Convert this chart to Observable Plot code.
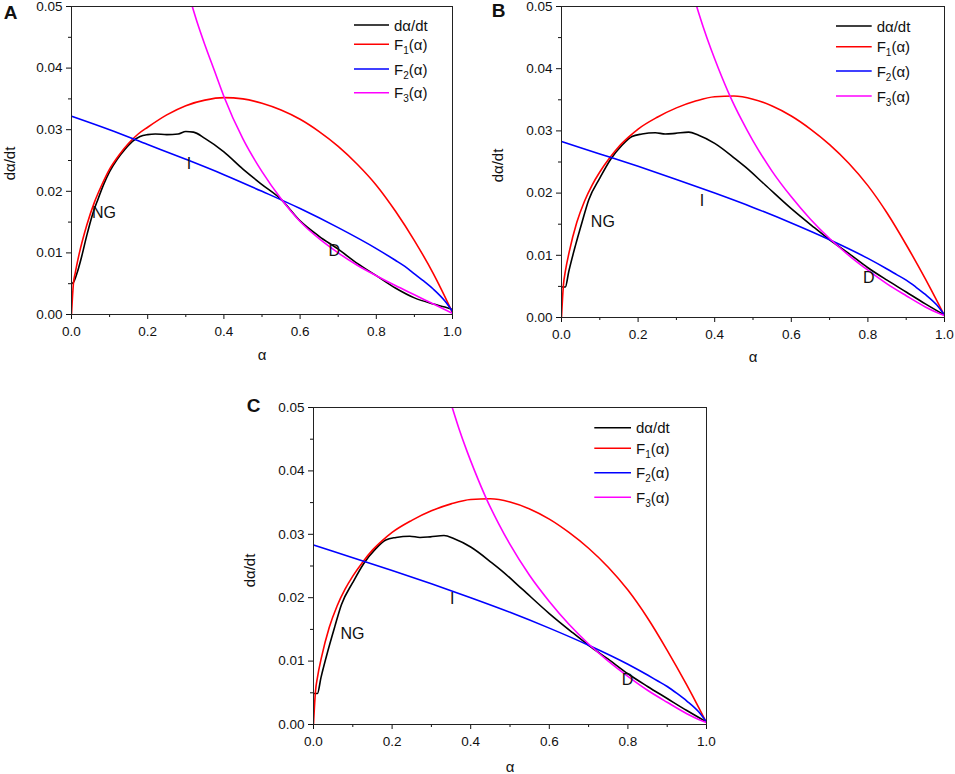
<!DOCTYPE html>
<html><head><meta charset="utf-8">
<script src="https://cdn.jsdelivr.net/npm/d3@7"></script>
<script src="https://cdn.jsdelivr.net/npm/@observablehq/plot@0.6"></script>
<style>
body{margin:0;background:#fff;}
#wrap{position:relative;width:955px;height:774px;overflow:hidden;background:#fff;}
#wrap svg{position:absolute;}
</style></head><body><div id="wrap"></div>
<script>
// ---------- data ----------
const seriesColors = ["#000000", "#ff0000", "#0000ff", "#ff00ff"];
const legendLabels = [["dα/dt", "", ""], ["F", "1", "(α)"], ["F", "2", "(α)"], ["F", "3", "(α)"]];
const xMajor = [0, 0.2, 0.4, 0.6, 0.8, 1.0];
const xMinor = [0.1, 0.3, 0.5, 0.7, 0.9];
const yMajor = [0, 0.01, 0.02, 0.03, 0.04, 0.05];
const yMinor = [0.005, 0.015, 0.025, 0.035, 0.045];

// Panel A
const A_f1_a = [0,0.005,0.01,0.02,0.04,0.06,0.08,0.1,0.125,0.15,0.175,0.2,0.25,0.3,0.35,0.4,0.45,0.5,0.55,0.6,0.65,0.7,0.75,0.8,0.85,0.9,0.95,0.98,1];
const A_f1   = [0,0.0050,0.0068,0.0098,0.0145,0.0182,0.0211,0.0236,0.0259,0.0278,0.0293,0.0304,0.0324,0.0339,0.0348,0.0352,0.0350,0.0343,0.0332,0.0317,0.0297,0.0273,0.0244,0.0210,0.0168,0.0120,0.0066,0.0029,0.0003];
const A_f2_a = [0,0.1,0.2,0.3,0.4,0.5,0.6,0.7,0.8,0.85,0.875,0.9,0.925,0.95,0.98,1];
const A_f2   = [0.0322,0.0300,0.0276,0.0252,0.0227,0.0200,0.0172,0.0141,0.0107,0.0088,0.0078,0.0066,0.0054,0.0041,0.0022,0.0005];
const A_f3_a = [0.317,0.33,0.35,0.375,0.4,0.45,0.5,0.55,0.6,0.65,0.7,0.75,0.8,0.85,0.9,0.95,1];
const A_f3   = [0.050,0.0474,0.0438,0.0396,0.0354,0.0285,0.0232,0.0188,0.0151,0.0123,0.0100,0.0080,0.0063,0.0047,0.0032,0.0017,0.0002];
const A_d_a  = [0.001,0.006,0.015,0.025,0.04,0.055,0.07,0.085,0.1,0.12,0.14,0.16,0.18,0.2,0.22,0.25,0.28,0.3,0.32,0.35,0.4,0.45,0.5,0.55,0.6,0.65,0.7,0.75,0.8,0.85,0.9,0.95,0.98,1];
const A_d    = [0.0050,0.0053,0.0068,0.0090,0.0128,0.0162,0.0188,0.0212,0.0232,0.0252,0.0268,0.0281,0.0289,0.0292,0.0293,0.0292,0.0293,0.0297,0.0296,0.0286,0.0264,0.0236,0.0211,0.0187,0.0152,0.0127,0.0106,0.0083,0.0063,0.0043,0.0027,0.0017,0.0012,0.0008];
const A_labels = [{t:"NG", a:0.085, v:0.0165}, {t:"I", a:0.308, v:0.0245}, {t:"D", a:0.690, v:0.0104}];

// Panel B (panel C shows the same curves)
const B_f1_a = [0,0.005,0.01,0.02,0.04,0.06,0.08,0.1,0.125,0.15,0.175,0.2,0.25,0.3,0.35,0.4,0.45,0.5,0.55,0.6,0.65,0.7,0.75,0.8,0.85,0.9,0.95,0.98,1];
const B_f1   = [0,0.0052,0.0074,0.0105,0.0153,0.0187,0.0213,0.0234,0.0256,0.0275,0.0290,0.0303,0.0322,0.0337,0.0348,0.0355,0.0356,0.0351,0.0340,0.0324,0.0303,0.0278,0.0248,0.0212,0.0168,0.0117,0.0062,0.0027,0.0003];
const B_f2_a = [0,0.1,0.2,0.3,0.4,0.5,0.6,0.7,0.8,0.85,0.875,0.9,0.925,0.95,0.98,1];
const B_f2   = [0.0283,0.0263,0.0243,0.0222,0.0200,0.0177,0.0152,0.0125,0.0095,0.0078,0.0069,0.0060,0.0049,0.0037,0.0020,0.0004];
const B_f3_a = [0.353,0.37,0.39,0.41,0.44,0.47,0.5,0.55,0.6,0.65,0.7,0.75,0.8,0.85,0.9,0.95,0.98,1];
const B_f3   = [0.0500,0.0467,0.0432,0.0400,0.0356,0.0318,0.0284,0.0235,0.0194,0.0158,0.0127,0.0100,0.0076,0.0054,0.0035,0.0017,0.0008,0.0003];
const B_d_a  = [0.002,0.01,0.019,0.0365,0.054,0.071,0.1,0.128,0.158,0.184,0.21,0.245,0.271,0.297,0.332,0.358,0.4,0.454,0.48,0.532,0.6,0.655,0.7,0.75,0.8,0.85,0.9,0.95,1];
const B_d    = [0.0049,0.0049,0.0074,0.0116,0.0154,0.0189,0.0224,0.0254,0.0277,0.0291,0.0295,0.0297,0.0295,0.0296,0.0298,0.0293,0.0280,0.0255,0.0242,0.0213,0.0175,0.0147,0.0125,0.0103,0.0080,0.0060,0.0041,0.0022,0.0004];
const B_labels = [{t:"NG", a:0.108, v:0.0154}, {t:"I", a:0.367, v:0.0188}, {t:"D", a:0.802, v:0.0063}];
const C_labels = [{t:"NG", a:0.099, v:0.0143}, {t:"I", a:0.353, v:0.0198}, {t:"D", a:0.799, v:0.0070}];

// ---------- layout ----------
const FONT = '"Liberation Sans", Arial, Helvetica, sans-serif';
const panels = [
  {letter:"A", left:0, top:0, W:470, H:380, ml:71, mr:18, mt:6, mb:66,
   series:[[A_d_a,A_d],[A_f1_a,A_f1],[A_f2_a,A_f2],[A_f3_a,A_f3]], labels:A_labels,
   xlabDy:41, ylabDx:-61.7, ylabDy:3, letDx:-61, letDy:6,
   leg:{x0:-98, x1:-63, tx:-58, rows:[19, 38.3, 63, 86.7]}},
  {letter:"B", left:480, top:0, W:475, H:380, ml:81, mr:11, mt:6, mb:63,
   series:[[B_d_a,B_d],[B_f1_a,B_f1],[B_f2_a,B_f2],[B_f3_a,B_f3]], labels:B_labels,
   xlabDy:40, ylabDx:-63.7, ylabDy:3.5, letDx:-63, letDy:4,
   leg:{x0:-108, x1:-72.3, tx:-67.3, rows:[20, 40.7, 65, 90]}},
  {letter:"C", left:230, top:390, W:500, H:384, ml:83, mr:24, mt:17, mb:50,
   series:[[B_d_a,B_d],[B_f1_a,B_f1],[B_f2_a,B_f2],[B_f3_a,B_f3]], labels:C_labels,
   xlabDy:42.7, ylabDx:-63, ylabDy:4.5, letDx:-60, letDy:-2,
   leg:{x0:-111.7, x1:-75, tx:-70, rows:[20.7, 41.3, 65.7, 90.3]}}
];

const wrap = document.getElementById("wrap");
const toRows = (a, v) => a.map((x, i) => ({a: x, v: v[i]}));
const centered = {textAnchor: "middle", lineAnchor: "middle", fill: "#111"};

for (const p of panels) {
  const lineMarks = p.series.map(([a, v], i) =>
    Plot.line(toRows(a, v), {x: "a", y: "v", stroke: seriesColors[i], strokeWidth: 1.6, curve: "monotone-x", clip: true}));
  const svg = Plot.plot({
    width: p.W, height: p.H,
    marginLeft: p.ml, marginRight: p.mr, marginTop: p.mt, marginBottom: p.mb,
    style: {fontFamily: FONT, fontSize: "13.5px", color: "#111", background: "transparent", overflow: "visible"},
    x: {domain: [0, 1], label: null},
    y: {domain: [0, 0.05], label: null},
    marks: [
      Plot.axisX({ticks: xMajor, tickSize: 5, tickPadding: 7, tickFormat: d3.format(".1f"), label: null, fontSize: 13.5}),
      Plot.axisX({ticks: xMinor, tickSize: 3, tickFormat: () => "", label: null}),
      Plot.axisY({ticks: yMajor, tickSize: 5, tickPadding: 4, tickFormat: d3.format(".2f"), label: null, fontSize: 13.5}),
      Plot.axisY({ticks: yMinor, tickSize: 3, tickFormat: () => "", label: null}),
      ...lineMarks,
      Plot.frame({stroke: "#222", strokeWidth: 1}),
      Plot.text(p.labels, {x: "a", y: "v", text: "t", fontSize: 16, ...centered}),
      Plot.text(["α"], {frameAnchor: "bottom", dy: p.xlabDy, fontSize: 15, ...centered}),
      Plot.text(["dα/dt"], {frameAnchor: "left", dx: p.ylabDx, dy: p.ylabDy, rotate: -90, fontSize: 15, ...centered}),
      Plot.text([p.letter], {frameAnchor: "top-left", dx: p.letDx, dy: p.letDy, fontSize: 19, fontWeight: "bold", ...centered})
    ]
  });
  svg.style.left = p.left + "px";
  svg.style.top = p.top + "px";
  // legend
  const fr = p.W - p.mr;
  const g = d3.select(svg).append("g").attr("font-family", FONT).attr("font-size", 15)
    .attr("fill", "#111").attr("text-anchor", "start");
  legendLabels.forEach((lab, i) => {
    const y = p.mt + p.leg.rows[i];
    g.append("line").attr("x1", fr + p.leg.x0).attr("x2", fr + p.leg.x1)
      .attr("y1", y).attr("y2", y).attr("stroke", seriesColors[i]).attr("stroke-width", 1.6);
    const t = g.append("text").attr("x", fr + p.leg.tx).attr("y", y + 5.5).attr("text-anchor", "start");
    t.append("tspan").text(lab[0]);
    if (lab[1]) {
      t.append("tspan").attr("dy", 4).attr("font-size", 10).text(lab[1]);
      t.append("tspan").attr("dy", -4).text(lab[2]);
    }
  });
  wrap.appendChild(svg);
}
</script>
</body></html>
